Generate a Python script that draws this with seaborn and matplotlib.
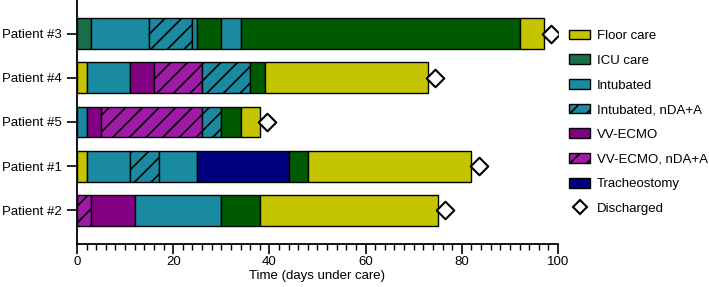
import numpy as np
import pandas as pd
import matplotlib.pyplot as plt
from matplotlib.patches import Patch
from matplotlib.lines import Line2D
from matplotlib.ticker import MultipleLocator
import seaborn as sns

sns.set_theme(style="ticks")
plt.rcParams['font.family'] = ['Liberation Sans', 'DejaVu Sans']
plt.rcParams['hatch.linewidth'] = 1.2
plt.rcParams['text.color'] = 'black'
plt.rcParams['axes.labelcolor'] = 'black'
plt.rcParams['xtick.labelcolor'] = 'black'
plt.rcParams['ytick.labelcolor'] = 'black'

patients = ["Patient #3", "Patient #4", "Patient #5", "Patient #1", "Patient #2"]

# care phases per patient, in order, with their length in days
p3_states = ["ICU care", "Intubated", "Intubated, nDA+A", "Intubated", "ICU", "Intubated", "ICU", "Floor care"]
p3_days = [3, 12, 9, 1, 5, 4, 58, 5]
p4_states = ["Floor care", "Intubated", "VV-ECMO", "VV-ECMO, nDA+A", "Intubated, nDA+A", "ICU", "Floor care"]
p4_days = [2, 9, 5, 10, 10, 3, 34]
p5_states = ["Intubated", "VV-ECMO", "VV-ECMO, nDA+A", "Intubated, nDA+A", "ICU", "Floor care"]
p5_days = [2, 3, 21, 4, 4, 4]
p1_states = ["Floor care", "Intubated", "Intubated, nDA+A", "Intubated", "Tracheostomy", "ICU", "Floor care"]
p1_days = [2, 9, 6, 8, 19, 4, 34]
p2_states = ["VV-ECMO, nDA+A", "VV-ECMO", "Intubated", "ICU", "Floor care"]
p2_days = [3, 9, 18, 8, 37]

discharged = [98.5, 74.5, 39.5, 83.5, 76.5]

legend_states = ["Floor care", "ICU care", "Intubated", "Intubated, nDA+A",
                 "VV-ECMO", "VV-ECMO, nDA+A", "Tracheostomy"]

colors = {
    "Floor care": "#c4c400",
    "ICU care": "#1b6d4a",
    "ICU": "#005a00",
    "Intubated": "#1a8aa0",
    "Intubated, nDA+A": "#1a8aa0",
    "VV-ECMO": "#820082",
    "VV-ECMO, nDA+A": "#a01aa8",
    "Tracheostomy": "#00007f",
}
hatches = {"Intubated, nDA+A": "//", "VV-ECMO, nDA+A": "//"}

rows = []
for name, states, days in zip(patients,
                              [p3_states, p4_states, p5_states, p1_states, p2_states],
                              [p3_days, p4_days, p5_days, p1_days, p2_days]):
    start = 0
    for s, d in zip(states, days):
        rows.append(dict(patient=name, state=s, start=start, days=d))
        start += d
df = pd.DataFrame(rows)

fs = 9.5
fig = plt.figure(figsize=(7.09, 2.87), dpi=100)
ax = fig.add_axes([0.1086, 0.15, 0.6784, 0.85])

ypos = {p: i for i, p in enumerate(patients)}
for _, r in df.iterrows():
    ax.barh(ypos[r.patient], r.days, left=r.start, height=0.7,
            color=colors[r.state], edgecolor="black", linewidth=1.0,
            hatch=hatches.get(r.state, None))

dis = pd.DataFrame(dict(patient=patients, day=discharged,
                        y=[ypos[p] for p in patients]))
sns.scatterplot(data=dis, x="day", y="y", marker="D", s=80, color="white",
                edgecolor="black", linewidth=1.5, ax=ax, zorder=5)

ax.set_ylim(4.76, -0.76)
ax.set_xlim(0, 100)
ax.set_yticks(range(len(patients)))
ax.set_yticklabels(patients)
ax.set_ylabel("")
ax.set_xlabel("Time (days under care)", fontsize=fs, labelpad=1)
ax.xaxis.set_major_locator(MultipleLocator(20))
ax.xaxis.set_minor_locator(MultipleLocator(2))
ax.tick_params(axis="both", which="major", labelsize=fs, length=7, width=1.2,
               color="black", pad=2)
ax.tick_params(axis="y", which="major", pad=4)
ax.tick_params(axis="x", which="minor", length=4, width=1.0, color="black")
for side in ["top", "right"]:
    ax.spines[side].set_visible(False)
for side in ["left", "bottom"]:
    ax.spines[side].set_linewidth(1.3)
    ax.spines[side].set_color("black")

handles = [Patch(facecolor=colors[s], edgecolor="black", linewidth=1.0,
                 hatch=hatches.get(s, None), label=s) for s in legend_states]
handles.append(Line2D([], [], marker="D", linestyle="none", markersize=7.5,
                      markerfacecolor="white", markeredgecolor="black",
                      markeredgewidth=1.5, label="Discharged"))
ax.legend(handles=handles, loc="upper left", bbox_to_anchor=(1.012, 0.90),
          frameon=False, fontsize=fs, handlelength=1.6, handleheight=0.75,
          handletextpad=0.5, labelspacing=0.93, borderaxespad=0)

fig.savefig("out.png", dpi=100)
